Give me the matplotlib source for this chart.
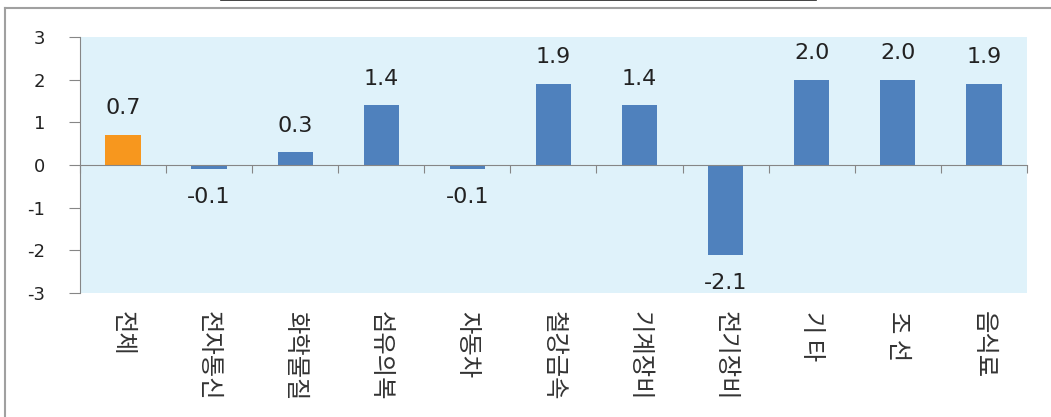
import matplotlib.pyplot as plt
from matplotlib.lines import Line2D
import numpy as np

plt.rcParams['font.family'] = ['DejaVu Sans', 'Noto Sans CJK KR']

categories = ['전체', '전자통신', '화학물질', '섬유의복', '자동차', '철강금속',
              '기계장비', '전기장비', '기 타', '조 선', '음식료']
values = [0.7, -0.1, 0.3, 1.4, -0.1, 1.9, 1.4, -2.1, 2.0, 2.0, 1.9]
barColors = ['#F7971E'] + ['#4F81BD'] * 10
yTicks = [-3, -2, -1, 0, 1, 2, 3]

fig = plt.figure(figsize=(10.51, 4.17), dpi=100)
ax = fig.add_axes([0.0761, 0.2974, 0.901, 0.6139])
ax.set_facecolor('#DFF2FA')

x = np.arange(len(categories))
ax.bar(x, values, width=0.41, color=barColors, zorder=3)

for xi, v in zip(x, values):
    if v >= 0:
        ax.annotate('%.1f' % v, (xi, v), xytext=(0, 12), textcoords='offset points',
                    ha='center', va='bottom', fontsize=16, color='#222222')
    else:
        ax.annotate('%.1f' % v, (xi, v), xytext=(0, -13), textcoords='offset points',
                    ha='center', va='top', fontsize=16, color='#222222')

for xi, name in zip(x, categories):
    ax.text(xi, -0.07, name, transform=ax.get_xaxis_transform(), rotation=-90,
            ha='center', va='top', fontsize=17.5, color='#333333',
            family=['Noto Sans CJK KR', 'DejaVu Sans'])

ax.set_xlim(-0.5, len(categories) - 0.5)
ax.set_ylim(-3, 3)
ax.set_yticks(yTicks)
ax.set_yticklabels([str(t) for t in yTicks], fontsize=13, color='#222222')
ax.set_xticks(np.arange(len(categories) + 1) - 0.5)
ax.set_xticklabels([])

ax.spines['bottom'].set_position(('data', 0))
ax.spines['bottom'].set_color('#868686')
ax.spines['bottom'].set_zorder(4)
ax.spines['left'].set_color('#868686')
ax.spines['top'].set_visible(False)
ax.spines['right'].set_visible(False)
ax.tick_params(axis='x', length=6, color='#868686', direction='out')
ax.tick_params(axis='y', length=8, color='#868686', pad=17)

# outer chart frame and the clipped title underline
fig.add_artist(Line2D([0.005, 0.005], [0.0, 0.981], color='#A0A0A0', lw=1.5))
fig.add_artist(Line2D([0.005, 1.0], [0.981, 0.981], color='#A0A0A0', lw=1.5))
fig.add_artist(Line2D([0.21, 0.776], [0.999, 0.999], color='#222222', lw=1.2))

fig.savefig('out.png', dpi=100)
